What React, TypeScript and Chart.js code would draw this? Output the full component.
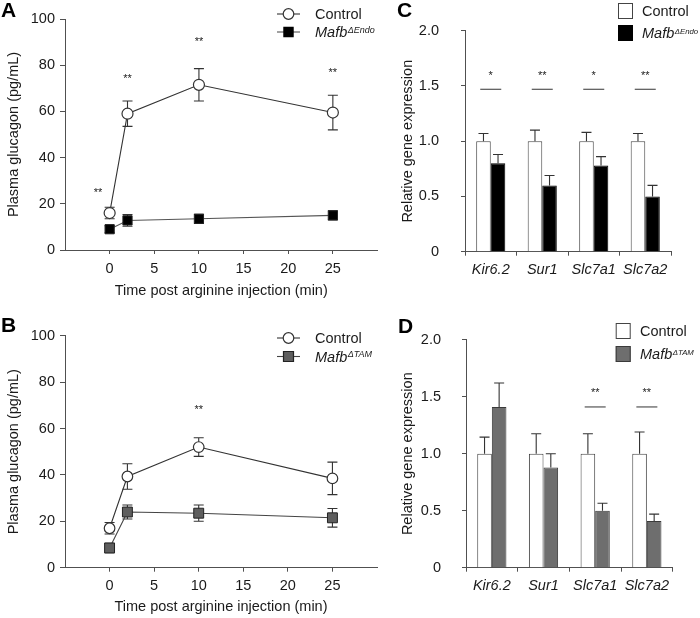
import React, { useEffect, useRef } from 'react';
import { Chart, registerables } from 'chart.js';

Chart.register(...registerables);

// ---------- DATA ----------
const timePoints = [0, 2, 10, 25];
const timeTicks = [0, 5, 10, 15, 20, 25];
const glucTicks = [0, 20, 40, 60, 80, 100];

const glucA_control = [16, 59, 71.5, 59.5];
const glucA_controlErr = [2.5, 5.5, 7, 7.5];
const glucA_endo = [9, 12.8, 13.5, 15];
const glucA_endoErr = [1.5, 2.5, 2, 2];
const sigA_x = [-1.3, 2, 10, 25];
const sigA_y = [24.5, 74, 90, 76.5];
const sigA_text = ['**', '**', '**', '**'];

const glucB_control = [17, 39.3, 52, 38.5];
const glucB_controlErr = [2.5, 5.5, 4, 7];
const glucB_tam = [8.5, 24, 23.5, 21.5];
const glucB_tamErr = [2, 3, 3.5, 4];
const sigB_x = [10];
const sigB_y = [68];
const sigB_text = ['**'];

const genes = ['Kir6.2', 'Sur1', 'Slc7a1', 'Slc7a2'];
const exprTicks = [0, 0.5, 1.0, 1.5, 2.0];
const exprTickLabels = ['0', '0.5', '1.0', '1.5', '2.0'];

const exprC_control = [1, 1, 1, 1];
const exprC_controlErr = [0.07, 0.1, 0.08, 0.07];
const exprC_endo = [0.8, 0.6, 0.78, 0.5];
const exprC_endoErr = [0.08, 0.09, 0.08, 0.1];
const sigC_text = ['*', '**', '*', '**'];
const sigC_line = 1.47;
const sigC_star = 1.59;

const exprD_control = [1, 1, 1, 1];
const exprD_controlErr = [0.145, 0.175, 0.175, 0.19];
const exprD_tam = [1.41, 0.88, 0.5, 0.41];
const exprD_tamErr = [0.21, 0.12, 0.065, 0.06];
const sigD_text = ['', '', '**', '**'];
const sigD_line = 1.41;
const sigD_star = 1.53;

// ---------- STYLE ----------
const FONT = '"Liberation Sans", Arial, Helvetica, sans-serif';
const TEXT = '#1a1a1a';
const AXIS = '#505050';
const FS = 14.5;

Chart.defaults.font.family = FONT;
Chart.defaults.font.size = FS;
Chart.defaults.color = TEXT;

type Series = { datasetIndex: number; err: number[]; up?: boolean };

function errorBarPlugin(series: Series[], cap: number, color: string) {
  return {
    id: 'errbars',
    beforeDatasetsDraw(chart: any) {
      const ctx = chart.ctx;
      const yScale = chart.scales.y;
      ctx.save();
      ctx.strokeStyle = color;
      ctx.lineWidth = 1.1;
      series.forEach((s) => {
        const meta = chart.getDatasetMeta(s.datasetIndex);
        const data = chart.data.datasets[s.datasetIndex].data as any[];
        meta.data.forEach((el: any, i: number) => {
          const raw = data[i];
          const v = typeof raw === 'number' ? raw : raw.y;
          const e = s.err[i];
          const x = el.x;
          const yTop = yScale.getPixelForValue(v + e);
          const yBot = s.up ? yScale.getPixelForValue(v) : yScale.getPixelForValue(v - e);
          ctx.beginPath();
          ctx.moveTo(x, yBot);
          ctx.lineTo(x, yTop);
          ctx.moveTo(x - cap / 2, yTop);
          ctx.lineTo(x + cap / 2, yTop);
          if (!s.up) {
            ctx.moveTo(x - cap / 2, yBot);
            ctx.lineTo(x + cap / 2, yBot);
          }
          ctx.stroke();
        });
      });
      ctx.restore();
    },
  };
}

function sigPointPlugin(xs: number[], ys: number[], texts: string[]) {
  return {
    id: 'sigpts',
    afterDatasetsDraw(chart: any) {
      const ctx = chart.ctx;
      ctx.save();
      ctx.fillStyle = TEXT;
      ctx.font = `11px ${FONT}`;
      ctx.textAlign = 'center';
      ctx.textBaseline = 'middle';
      xs.forEach((xv, i) => {
        ctx.fillText(texts[i], chart.scales.x.getPixelForValue(xv), chart.scales.y.getPixelForValue(ys[i]));
      });
      ctx.restore();
    },
  };
}

function sigBarPlugin(texts: string[], lineVal: number, starVal: number, halfW: number) {
  return {
    id: 'sigbars',
    afterDatasetsDraw(chart: any) {
      const ctx = chart.ctx;
      const yL = chart.scales.y.getPixelForValue(lineVal);
      const yS = chart.scales.y.getPixelForValue(starVal);
      ctx.save();
      ctx.strokeStyle = '#333';
      ctx.lineWidth = 1;
      ctx.fillStyle = TEXT;
      ctx.font = `11px ${FONT}`;
      ctx.textAlign = 'center';
      ctx.textBaseline = 'middle';
      texts.forEach((t, i) => {
        if (!t) return;
        const cx = chart.scales.x.getPixelForValue(i);
        ctx.beginPath();
        ctx.moveTo(cx - halfW, yL);
        ctx.lineTo(cx + halfW, yL);
        ctx.stroke();
        ctx.fillText(t, cx, yS);
      });
      ctx.restore();
    },
  };
}

function drawRichLabel(ctx: any, x: number, y: number, main: string, sup: string | null, italic: boolean, supSize: number) {
  ctx.save();
  ctx.fillStyle = TEXT;
  ctx.textAlign = 'left';
  ctx.textBaseline = 'alphabetic';
  ctx.font = `${italic ? 'italic ' : ''}${FS}px ${FONT}`;
  const base = y + 5.2;
  ctx.fillText(main, x, base);
  if (sup) {
    const w = ctx.measureText(main).width;
    ctx.font = `italic ${supSize}px ${FONT}`;
    ctx.fillText(sup, x + w + 0.5, base - 4.5);
  }
  ctx.restore();
}

type LineLegendItem = {
  y: number;
  lineColor: string;
  marker: 'circle' | 'rect';
  fill: string;
  stroke: string;
  r: number;
  main: string;
  sup: string | null;
  italic: boolean;
};

function lineLegendPlugin(x0: number, x1: number, tx: number, items: LineLegendItem[], supSize: number) {
  return {
    id: 'linelegend',
    afterDraw(chart: any) {
      const ctx = chart.ctx;
      items.forEach((it) => {
        ctx.save();
        ctx.strokeStyle = it.lineColor;
        ctx.lineWidth = 1.1;
        ctx.beginPath();
        ctx.moveTo(x0, it.y);
        ctx.lineTo(x1, it.y);
        ctx.stroke();
        const cx = (x0 + x1) / 2;
        ctx.fillStyle = it.fill;
        ctx.strokeStyle = it.stroke;
        ctx.lineWidth = 1.2;
        ctx.beginPath();
        if (it.marker === 'circle') {
          ctx.arc(cx, it.y, it.r, 0, Math.PI * 2);
        } else {
          ctx.rect(cx - it.r, it.y - it.r, it.r * 2, it.r * 2);
        }
        ctx.fill();
        ctx.stroke();
        ctx.restore();
        drawRichLabel(ctx, tx, it.y, it.main, it.sup, it.italic, supSize);
      });
    },
  };
}

type BoxLegendItem = { y: number; fill: string; stroke: string; main: string; sup: string | null; italic: boolean };

function boxLegendPlugin(bx: number, bw: number, bh: number, tx: number, items: BoxLegendItem[], supSize: number) {
  return {
    id: 'boxlegend',
    afterDraw(chart: any) {
      const ctx = chart.ctx;
      items.forEach((it) => {
        ctx.save();
        ctx.fillStyle = it.fill;
        ctx.strokeStyle = it.stroke;
        ctx.lineWidth = 1;
        ctx.fillRect(bx, it.y - bh / 2, bw, bh);
        ctx.strokeRect(bx + 0.5, it.y - bh / 2 + 0.5, bw - 1, bh - 1);
        ctx.restore();
        drawRichLabel(ctx, tx, it.y, it.main, it.sup, it.italic, supSize);
      });
    },
  };
}

function letterPlugin(letter: string, x: number, y: number) {
  return {
    id: 'letter',
    afterDraw(chart: any) {
      const ctx = chart.ctx;
      ctx.save();
      ctx.fillStyle = '#000';
      ctx.font = `bold 21px ${FONT}`;
      ctx.textAlign = 'left';
      ctx.textBaseline = 'alphabetic';
      ctx.fillText(letter, x, y);
      ctx.restore();
    },
  };
}

function axisCommon(tickLength: number) {
  return {
    grid: { drawOnChartArea: false, drawTicks: true, tickLength, color: AXIS, lineWidth: 1 },
    border: { display: true, color: AXIS, width: 1 },
  };
}

function lineConfig(opts: {
  control: number[];
  controlErr: number[];
  mut: number[];
  mutErr: number[];
  mutFill: string;
  mutLine: string;
  circleR: number;
  rectR: number;
  xHeight: number;
  top: number;
  right: number;
  titlePadBottom: number;
  sig: { x: number[]; y: number[]; t: string[] };
  legend: LineLegendItem[];
  letter: [string, number, number];
}): any {
  return {
    type: 'line',
    data: {
      datasets: [
        {
          data: timePoints.map((t, i) => ({ x: t, y: opts.control[i] })),
          borderColor: '#333',
          borderWidth: 1.1,
          pointStyle: 'circle',
          pointRadius: opts.circleR,
          pointBackgroundColor: '#fff',
          pointBorderColor: '#333',
          pointBorderWidth: 1.2,
          tension: 0,
          fill: false,
        },
        {
          data: timePoints.map((t, i) => ({ x: t, y: opts.mut[i] })),
          borderColor: opts.mutLine,
          borderWidth: 1.1,
          pointStyle: 'rect',
          pointRadius: opts.rectR,
          pointBackgroundColor: opts.mutFill,
          pointBorderColor: '#222',
          pointBorderWidth: 1,
          tension: 0,
          fill: false,
        },
      ],
    },
    options: {
      responsive: false,
      animation: false,
      devicePixelRatio: window.devicePixelRatio || 1,
      layout: { padding: { left: 0, right: opts.right, top: opts.top, bottom: 0 } },
      plugins: { legend: { display: false }, tooltip: { enabled: false } },
      scales: {
        x: {
          type: 'linear',
          min: -5,
          max: 30,
          afterBuildTicks: (s: any) => {
            s.ticks = timeTicks.map((v) => ({ value: v }));
          },
          afterFit: (s: any) => {
            s.height = opts.xHeight;
          },
          ...axisCommon(4),
          ticks: { padding: 6, color: TEXT, autoSkip: false, maxRotation: 0, callback: (v: any) => String(v) },
          title: {
            display: true,
            text: 'Time post arginine injection (min)',
            color: TEXT,
            padding: { top: 0, bottom: opts.titlePadBottom },
          },
        },
        y: {
          type: 'linear',
          min: 0,
          max: 100,
          afterBuildTicks: (s: any) => {
            s.ticks = glucTicks.map((v) => ({ value: v }));
          },
          afterFit: (s: any) => {
            s.width = 65;
          },
          ...axisCommon(5),
          ticks: { padding: 5, color: TEXT, callback: (v: any) => String(v) },
          title: { display: true, text: 'Plasma glucagon (pg/mL)', color: TEXT, padding: { top: 5, bottom: 0 } },
        },
      },
    },
    plugins: [
      errorBarPlugin(
        [
          { datasetIndex: 0, err: opts.controlErr },
          { datasetIndex: 1, err: opts.mutErr },
        ],
        10,
        '#333'
      ),
      sigPointPlugin(opts.sig.x, opts.sig.y, opts.sig.t),
      lineLegendPlugin(277, 300, 315, opts.legend, 9),
      letterPlugin(opts.letter[0], opts.letter[1], opts.letter[2]),
    ],
  };
}

function barConfig(opts: {
  control: number[];
  controlErr: number[];
  mut: number[];
  mutErr: number[];
  mutFill: string;
  mutStroke: string;
  yWidth: number;
  xHeight: number;
  top: number;
  right: number;
  yPad: number;
  titlePadTop: number;
  sig: { t: string[]; line: number; star: number };
  legend: { bx: number; tx: number; items: BoxLegendItem[] };
  letter: [string, number, number];
}): any {
  return {
    type: 'bar',
    data: {
      labels: genes,
      datasets: [
        {
          data: opts.control,
          backgroundColor: '#ffffff',
          borderColor: '#444',
          borderWidth: 1,
          borderSkipped: 'bottom',
          categoryPercentage: 0.565,
          barPercentage: 1,
        },
        {
          data: opts.mut,
          backgroundColor: opts.mutFill,
          borderColor: opts.mutStroke,
          borderWidth: 1,
          borderSkipped: 'bottom',
          categoryPercentage: 0.565,
          barPercentage: 1,
        },
      ],
    },
    options: {
      responsive: false,
      animation: false,
      devicePixelRatio: window.devicePixelRatio || 1,
      layout: { padding: { left: 0, right: opts.right, top: opts.top, bottom: 0 } },
      plugins: { legend: { display: false }, tooltip: { enabled: false } },
      scales: {
        x: {
          type: 'category',
          offset: true,
          afterFit: (s: any) => {
            s.height = opts.xHeight;
          },
          grid: { offset: true, drawOnChartArea: false, drawTicks: true, tickLength: 4, color: AXIS, lineWidth: 1 },
          border: { display: true, color: AXIS, width: 1 },
          ticks: { padding: 6, color: TEXT, font: { style: 'italic', size: FS }, autoSkip: false, maxRotation: 0 },
        },
        y: {
          type: 'linear',
          min: 0,
          max: 2,
          afterBuildTicks: (s: any) => {
            s.ticks = exprTicks.map((v) => ({ value: v }));
          },
          afterFit: (s: any) => {
            s.width = opts.yWidth;
          },
          ...axisCommon(4),
          ticks: {
            padding: opts.yPad,
            color: TEXT,
            callback: (v: any) => {
              const i = exprTicks.indexOf(Number(v));
              return i >= 0 ? exprTickLabels[i] : '';
            },
          },
          title: {
            display: true,
            text: 'Relative gene expression',
            color: TEXT,
            padding: { top: opts.titlePadTop, bottom: 0 },
          },
        },
      },
    },
    plugins: [
      errorBarPlugin(
        [
          { datasetIndex: 0, err: opts.controlErr, up: true },
          { datasetIndex: 1, err: opts.mutErr, up: true },
        ],
        10,
        '#333'
      ),
      sigBarPlugin(opts.sig.t, opts.sig.line, opts.sig.star, 10.5),
      boxLegendPlugin(opts.legend.bx, 15, 16, opts.legend.tx, opts.legend.items, 7.8),
      letterPlugin(opts.letter[0], opts.letter[1], opts.letter[2]),
    ],
  };
}

function ChartPanel(props: { left: number; top: number; width: number; height: number; make: () => any }) {
  const ref = useRef<HTMLCanvasElement>(null);
  useEffect(() => {
    const chart = new Chart(ref.current as HTMLCanvasElement, props.make());
    return () => chart.destroy();
  }, []);
  return (
    <canvas
      ref={ref}
      width={props.width}
      height={props.height}
      style={{ position: 'absolute', left: props.left, top: props.top, width: props.width, height: props.height }}
    />
  );
}

export default function App() {
  return (
    <div style={{ position: 'absolute', left: 0, top: 0, width: 700, height: 618, background: '#fff', overflow: 'hidden' }}>
      <ChartPanel
        left={0}
        top={0}
        width={385}
        height={310}
        make={() =>
          lineConfig({
            control: glucA_control,
            controlErr: glucA_controlErr,
            mut: glucA_endo,
            mutErr: glucA_endoErr,
            mutFill: '#000000',
            mutLine: '#555',
            circleR: 5.5,
            rectR: 6.5,
            xHeight: 60,
            top: 19,
            right: 7,
            titlePadBottom: 10,
            sig: { x: sigA_x, y: sigA_y, t: sigA_text },
            legend: [
              { y: 14, lineColor: '#333', marker: 'circle', fill: '#fff', stroke: '#333', r: 5.3, main: 'Control', sup: null, italic: false },
              { y: 32, lineColor: '#555', marker: 'rect', fill: '#000', stroke: '#000', r: 4.6, main: 'Mafb', sup: 'ΔEndo', italic: true },
            ],
            letter: ['A', 1, 17],
          })
        }
      />
      <ChartPanel
        left={0}
        top={310}
        width={385}
        height={308}
        make={() =>
          lineConfig({
            control: glucB_control,
            controlErr: glucB_controlErr,
            mut: glucB_tam,
            mutErr: glucB_tamErr,
            mutFill: '#5e5e5e',
            mutLine: '#444',
            circleR: 5.3,
            rectR: 7,
            xHeight: 50.3,
            top: 25.7,
            right: 7,
            titlePadBottom: 2.5,
            sig: { x: sigB_x, y: sigB_y, t: sigB_text },
            legend: [
              { y: 28, lineColor: '#333', marker: 'circle', fill: '#fff', stroke: '#333', r: 5.3, main: 'Control', sup: null, italic: false },
              { y: 46.5, lineColor: '#444', marker: 'rect', fill: '#5e5e5e', stroke: '#222', r: 5, main: 'Mafb', sup: 'ΔTAM', italic: true },
            ],
            letter: ['B', 1, 22],
          })
        }
      />
      <ChartPanel
        left={385}
        top={0}
        width={315}
        height={310}
        make={() =>
          barConfig({
            control: exprC_control,
            controlErr: exprC_controlErr,
            mut: exprC_endo,
            mutErr: exprC_endoErr,
            mutFill: '#000000',
            mutStroke: '#000000',
            yWidth: 80,
            xHeight: 58.3,
            top: 19,
            right: 29,
            yPad: 22,
            titlePadTop: 14.3,
            sig: { t: sigC_text, line: sigC_line, star: sigC_star },
            legend: {
              bx: 233,
              tx: 257,
              items: [
                { y: 11, fill: '#fff', stroke: '#444', main: 'Control', sup: null, italic: false },
                { y: 33, fill: '#000', stroke: '#000', main: 'Mafb', sup: 'ΔEndo', italic: true },
              ],
            },
            letter: ['C', 12, 17],
          })
        }
      />
      <ChartPanel
        left={385}
        top={310}
        width={315}
        height={308}
        make={() =>
          barConfig({
            control: exprD_control,
            controlErr: exprD_controlErr,
            mut: exprD_tam,
            mutErr: exprD_tamErr,
            mutFill: '#6e6e6e',
            mutStroke: '#3a3a3a',
            yWidth: 81,
            xHeight: 50.3,
            top: 25,
            right: 27.3,
            yPad: 21,
            titlePadTop: 14.6,
            sig: { t: sigD_text, line: sigD_line, star: sigD_star },
            legend: {
              bx: 230.7,
              tx: 255,
              items: [
                { y: 21, fill: '#fff', stroke: '#444', main: 'Control', sup: null, italic: false },
                { y: 44, fill: '#6e6e6e', stroke: '#3a3a3a', main: 'Mafb', sup: 'ΔTAM', italic: true },
              ],
            },
            letter: ['D', 13, 23],
          })
        }
      />
    </div>
  );
}
